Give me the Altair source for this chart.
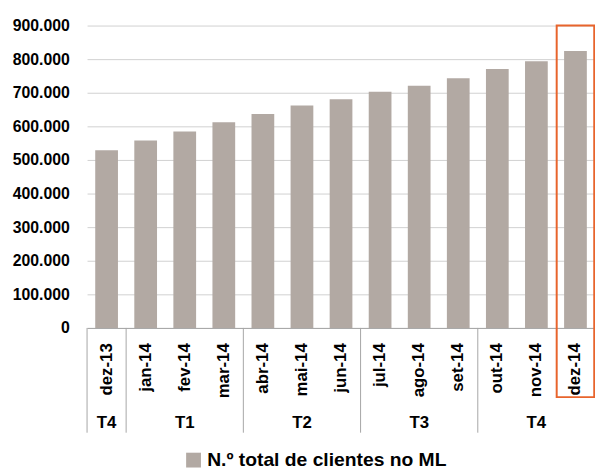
import altair as alt
import pandas as pd

meses = ["dez-13", "jan-14", "fev-14", "mar-14", "abr-14", "mai-14", "jun-14",
         "jul-14", "ago-14", "set-14", "out-14", "nov-14", "dez-14"]
clientes = [529000, 558000, 585000, 612000, 637000, 662000, 681000,
            703000, 721000, 743000, 771000, 794000, 824000]
trimestres = ["T4", "T1", "T2", "T3", "T4"]
trimestre_centro = ["dez-13", "fev-14", "mai-14", "ago-14", "nov-14"]
separadores = ["dez-13", "jan-14", "abr-14", "jul-14", "out-14"]
destaque = ["dez-14"]
serie = "N.º total de clientes no ML"
y_ticks = [0, 100000, 200000, 300000, 400000, 500000, 600000, 700000, 800000, 900000]

FONT = "Liberation Sans"
BAR = "#B2A9A3"
AXIS_GRAY = "#A6A6A6"
ORANGE = "#E8642C"

df = pd.DataFrame({"mes": meses, "clientes": clientes, "serie": [serie] * len(meses)})
xscale = alt.Scale(domain=meses, paddingInner=0, paddingOuter=0)

bars = alt.Chart(df).mark_bar(size=23).encode(
    x=alt.X("mes:N", scale=xscale, sort=meses, title=None,
            axis=alt.Axis(labelAngle=-90, labelFont=FONT, labelFontSize=17,
                          labelFontWeight="bold", labelColor="black", labelPadding=15,
                          ticks=False, domainColor=AXIS_GRAY, grid=False)),
    y=alt.Y("clientes:Q", scale=alt.Scale(domain=[0, 900000]), title=None,
            axis=alt.Axis(values=y_ticks,
                          labelExpr="replace(format(datum.value, ','), ',', '.')",
                          labelFont=FONT, labelFontSize=16,
                          labelFontWeight="bold", labelColor="black", labelPadding=18,
                          domain=False, ticks=False, gridColor="#D0D0D0")),
    color=alt.Color("serie:N", scale=alt.Scale(range=[BAR]),
                    legend=alt.Legend(orient="none", legendX=98, legendY=430, title=None,
                                      symbolType="square", symbolSize=225,
                                      symbolStrokeWidth=0, labelFont=FONT,
                                      labelFontSize=19.5, labelFontWeight="bold",
                                      labelColor="black", labelLimit=400,
                                      labelOffset=4, padding=0)),
)

rules = alt.Chart(pd.DataFrame({"mes": separadores})).mark_rule(
    color=AXIS_GRAY, strokeWidth=1
).encode(
    x=alt.X("mes:N", scale=xscale, bandPosition=0, title=None),
    y=alt.value(306), y2=alt.value(412),
)

box = alt.Chart(pd.DataFrame({"mes": destaque})).mark_bar(
    size=38, fillOpacity=0, stroke=ORANGE, strokeWidth=2
).encode(
    x=alt.X("mes:N", scale=xscale, title=None),
    y=alt.value(0), y2=alt.value(376),
)

text = alt.Chart(pd.DataFrame({"mes": trimestre_centro, "tri": trimestres})).mark_text(
    font=FONT, fontSize=17, fontWeight="bold", color="black", baseline="middle"
).encode(
    x=alt.X("mes:N", scale=xscale, title=None),
    y=alt.value(402),
    text="tri:N",
)

chart = alt.layer(bars, rules, box, text).properties(
    width=514, height=306,
    padding={"left": 80, "top": 15, "right": 0, "bottom": 141},
    autosize=alt.AutoSizeParams(type="none"),
).configure_view(strokeWidth=0)

chart.save("out.html", embed_options={"renderer": "svg", "actions": False})
